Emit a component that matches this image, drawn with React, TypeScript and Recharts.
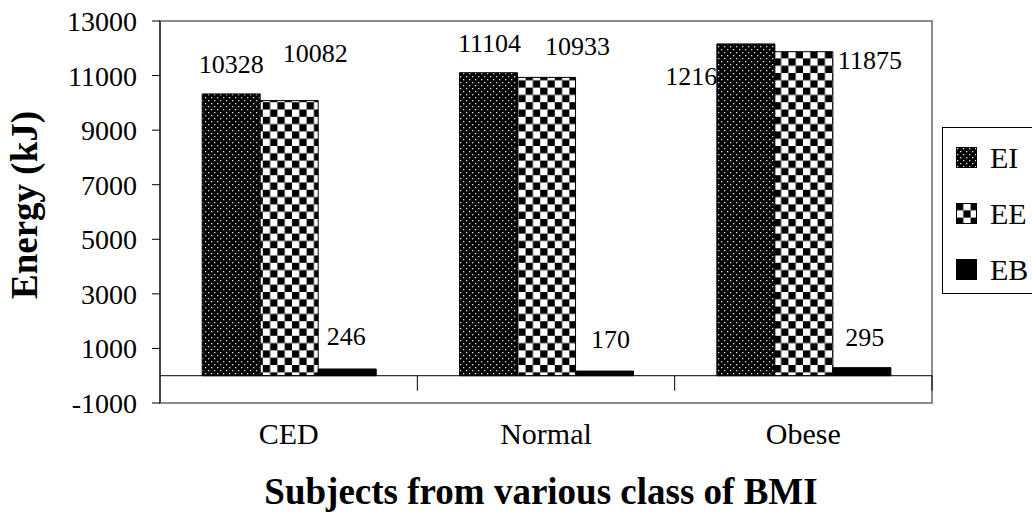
import React from 'react';
import { BarChart, Bar, XAxis, YAxis, ReferenceLine, ReferenceArea, Legend, LabelList } from 'recharts';

const categories = ['CED', 'Normal', 'Obese'];
const energyIntake = [10328, 11104, 12160];
const energyExpenditure = [10082, 10933, 11875];
const energyBalance = [246, 170, 295];
const yTicks = [-1000, 1000, 3000, 5000, 7000, 9000, 11000, 13000];
const seriesNames = ['EI', 'EE', 'EB'];

const data = categories.map((name, i) => ({
  name,
  EI: energyIntake[i],
  EE: energyExpenditure[i],
  EB: energyBalance[i],
}));

const serif = '"Liberation Serif", "Times New Roman", serif';
const fills = ['url(#dotFill)', 'url(#checkFill)', '#000'];

// where Excel put each data label, relative to the top centre of its bar
const labelNudge: Record<string, { dx: number; dy: number; behind?: boolean }[]> = {
  EI: [{ dx: 0, dy: -30 }, { dx: 1, dy: -30 }, { dx: -48, dy: 32, behind: true }],
  EE: [{ dx: 26, dy: -48 }, { dx: 31, dy: -31 }, { dx: 66, dy: 8 }],
  EB: [{ dx: -1, dy: -33 }, { dx: 6, dy: -32 }, { dx: 3, dy: -31 }],
};

const makeLabel = (key: string) => (props: any) => {
  const vb = props.viewBox || props;
  const x = props.x ?? vb.x;
  const y = props.y ?? vb.y;
  const w = props.width ?? vb.width;
  const i = props.index ?? 0;
  const n = labelNudge[key][i];
  const clipId = `clip-${key}-${i}`;
  return (
    <g>
      {n.behind && (
        <clipPath id={clipId}>
          <rect x={0} y={0} width={x} height={512} />
        </clipPath>
      )}
      <text
        x={x + w / 2 + n.dx}
        y={y + n.dy}
        dy="0.35em"
        textAnchor="middle"
        fontFamily={serif}
        fontSize={26}
        fill="#000"
        clipPath={n.behind ? `url(#${clipId})` : undefined}
      >
        {props.value}
      </text>
    </g>
  );
};

const ZeroLine = (props: any) => {
  const { x1, y1, x2 } = props;
  const step = (x2 - x1) / categories.length;
  return (
    <g>
      <line x1={x1} y1={y1} x2={x2} y2={y1} stroke="#000" strokeWidth={1} />
      {categories.map((c, k) => (
        <line key={c} x1={x1 + step * (k + 1)} y1={y1} x2={x1 + step * (k + 1)} y2={y1 + 15} stroke="#000" strokeWidth={1} />
      ))}
    </g>
  );
};

const LegendBox = () => (
  <div
    style={{
      border: '1px solid #000',
      width: 130,
      height: 165,
      position: 'relative',
      background: '#fff',
      fontFamily: serif,
      fontSize: 30,
      color: '#000',
    }}
  >
    {seriesNames.map((name, i) => (
      <div
        key={name}
        style={{ position: 'absolute', left: 13, top: 19 + i * 56, height: 21, display: 'flex', alignItems: 'center' }}
      >
        <svg width={21} height={21} style={{ display: 'block' }}>
          <rect x={0.5} y={0.5} width={20} height={20} fill={fills[i]} stroke="#000" />
        </svg>
        <span style={{ marginLeft: 13, lineHeight: '21px' }}>{name}</span>
      </div>
    ))}
  </div>
);

export default function App() {
  return (
    <div style={{ position: 'absolute', left: 0, top: 0, width: 1032, height: 512, overflow: 'hidden', background: '#fff' }}>
      <BarChart
        width={1032}
        height={512}
        data={data}
        margin={{ top: 21, right: 100, bottom: 0, left: 0 }}
        barCategoryGap="16.4%"
        barGap={0}
      >
        <defs>
          <pattern id="dotFill" width={6} height={6} patternUnits="userSpaceOnUse">
            <rect width={6} height={6} fill="#000" />
            <rect x={1} y={1} width={1.3} height={1.3} fill="#e0e0e0" />
            <rect x={4} y={4} width={1.3} height={1.3} fill="#e0e0e0" />
          </pattern>
          <pattern id="checkFill" width={14.6} height={14.6} patternUnits="userSpaceOnUse">
            <rect width={14.6} height={14.6} fill="#fff" />
            <rect x={0} y={0} width={7.3} height={7.3} fill="#000" />
            <rect x={7.3} y={7.3} width={7.3} height={7.3} fill="#000" />
          </pattern>
        </defs>
        <ReferenceArea y1={-1000} y2={13000} fill="none" stroke="#8a8a8a" strokeWidth={2} ifOverflow="visible" />
        <XAxis
          dataKey="name"
          axisLine={false}
          tickLine={false}
          tickSize={0}
          tickMargin={20}
          height={109}
          tick={{ fontFamily: serif, fontSize: 30, fill: '#000' }}
          label={{
            content: (p: any) => (
              <text
                x={p.viewBox.x + p.viewBox.width / 2 - 5}
                y={p.viewBox.y + 101}
                textAnchor="middle"
                fontFamily={serif}
                fontWeight="bold"
                fontSize={37}
                fill="#000"
              >
                Subjects from various class of BMI
              </text>
            ),
          }}
        />
        <YAxis
          width={160}
          domain={[-1000, 13000]}
          ticks={yTicks}
          interval={0}
          axisLine={{ stroke: '#000' }}
          tickLine={{ stroke: '#000' }}
          tickSize={8}
          tickMargin={15}
          tick={{ fontFamily: serif, fontSize: 28, fill: '#000' }}
          label={{
            content: (p: any) => {
              const cx = p.viewBox.x + 37;
              const cy = p.viewBox.y + p.viewBox.height / 2 - 7;
              return (
                <text
                  x={cx}
                  y={cy}
                  transform={`rotate(-90 ${cx} ${cy})`}
                  textAnchor="middle"
                  fontFamily={serif}
                  fontWeight="bold"
                  fontSize={37}
                  fill="#000"
                >
                  Energy (kJ)
                </text>
              );
            },
          }}
        />
        <ReferenceLine y={0} shape={<ZeroLine />} ifOverflow="visible" />
        <Bar dataKey="EI" fill={fills[0]} stroke="#000" strokeWidth={1} isAnimationActive={false}>
          <LabelList dataKey="EI" content={makeLabel('EI')} />
        </Bar>
        <Bar dataKey="EE" fill={fills[1]} stroke="#000" strokeWidth={1} isAnimationActive={false}>
          <LabelList dataKey="EE" content={makeLabel('EE')} />
        </Bar>
        <Bar dataKey="EB" fill={fills[2]} stroke="#000" strokeWidth={1} isAnimationActive={false}>
          <LabelList dataKey="EB" content={makeLabel('EB')} />
        </Bar>
        <Legend
          layout="horizontal"
          align="center"
          verticalAlign="middle"
          content={<LegendBox />}
          wrapperStyle={{ left: 942, top: 127, width: 130, height: 167 }}
        />
      </BarChart>
    </div>
  );
}
